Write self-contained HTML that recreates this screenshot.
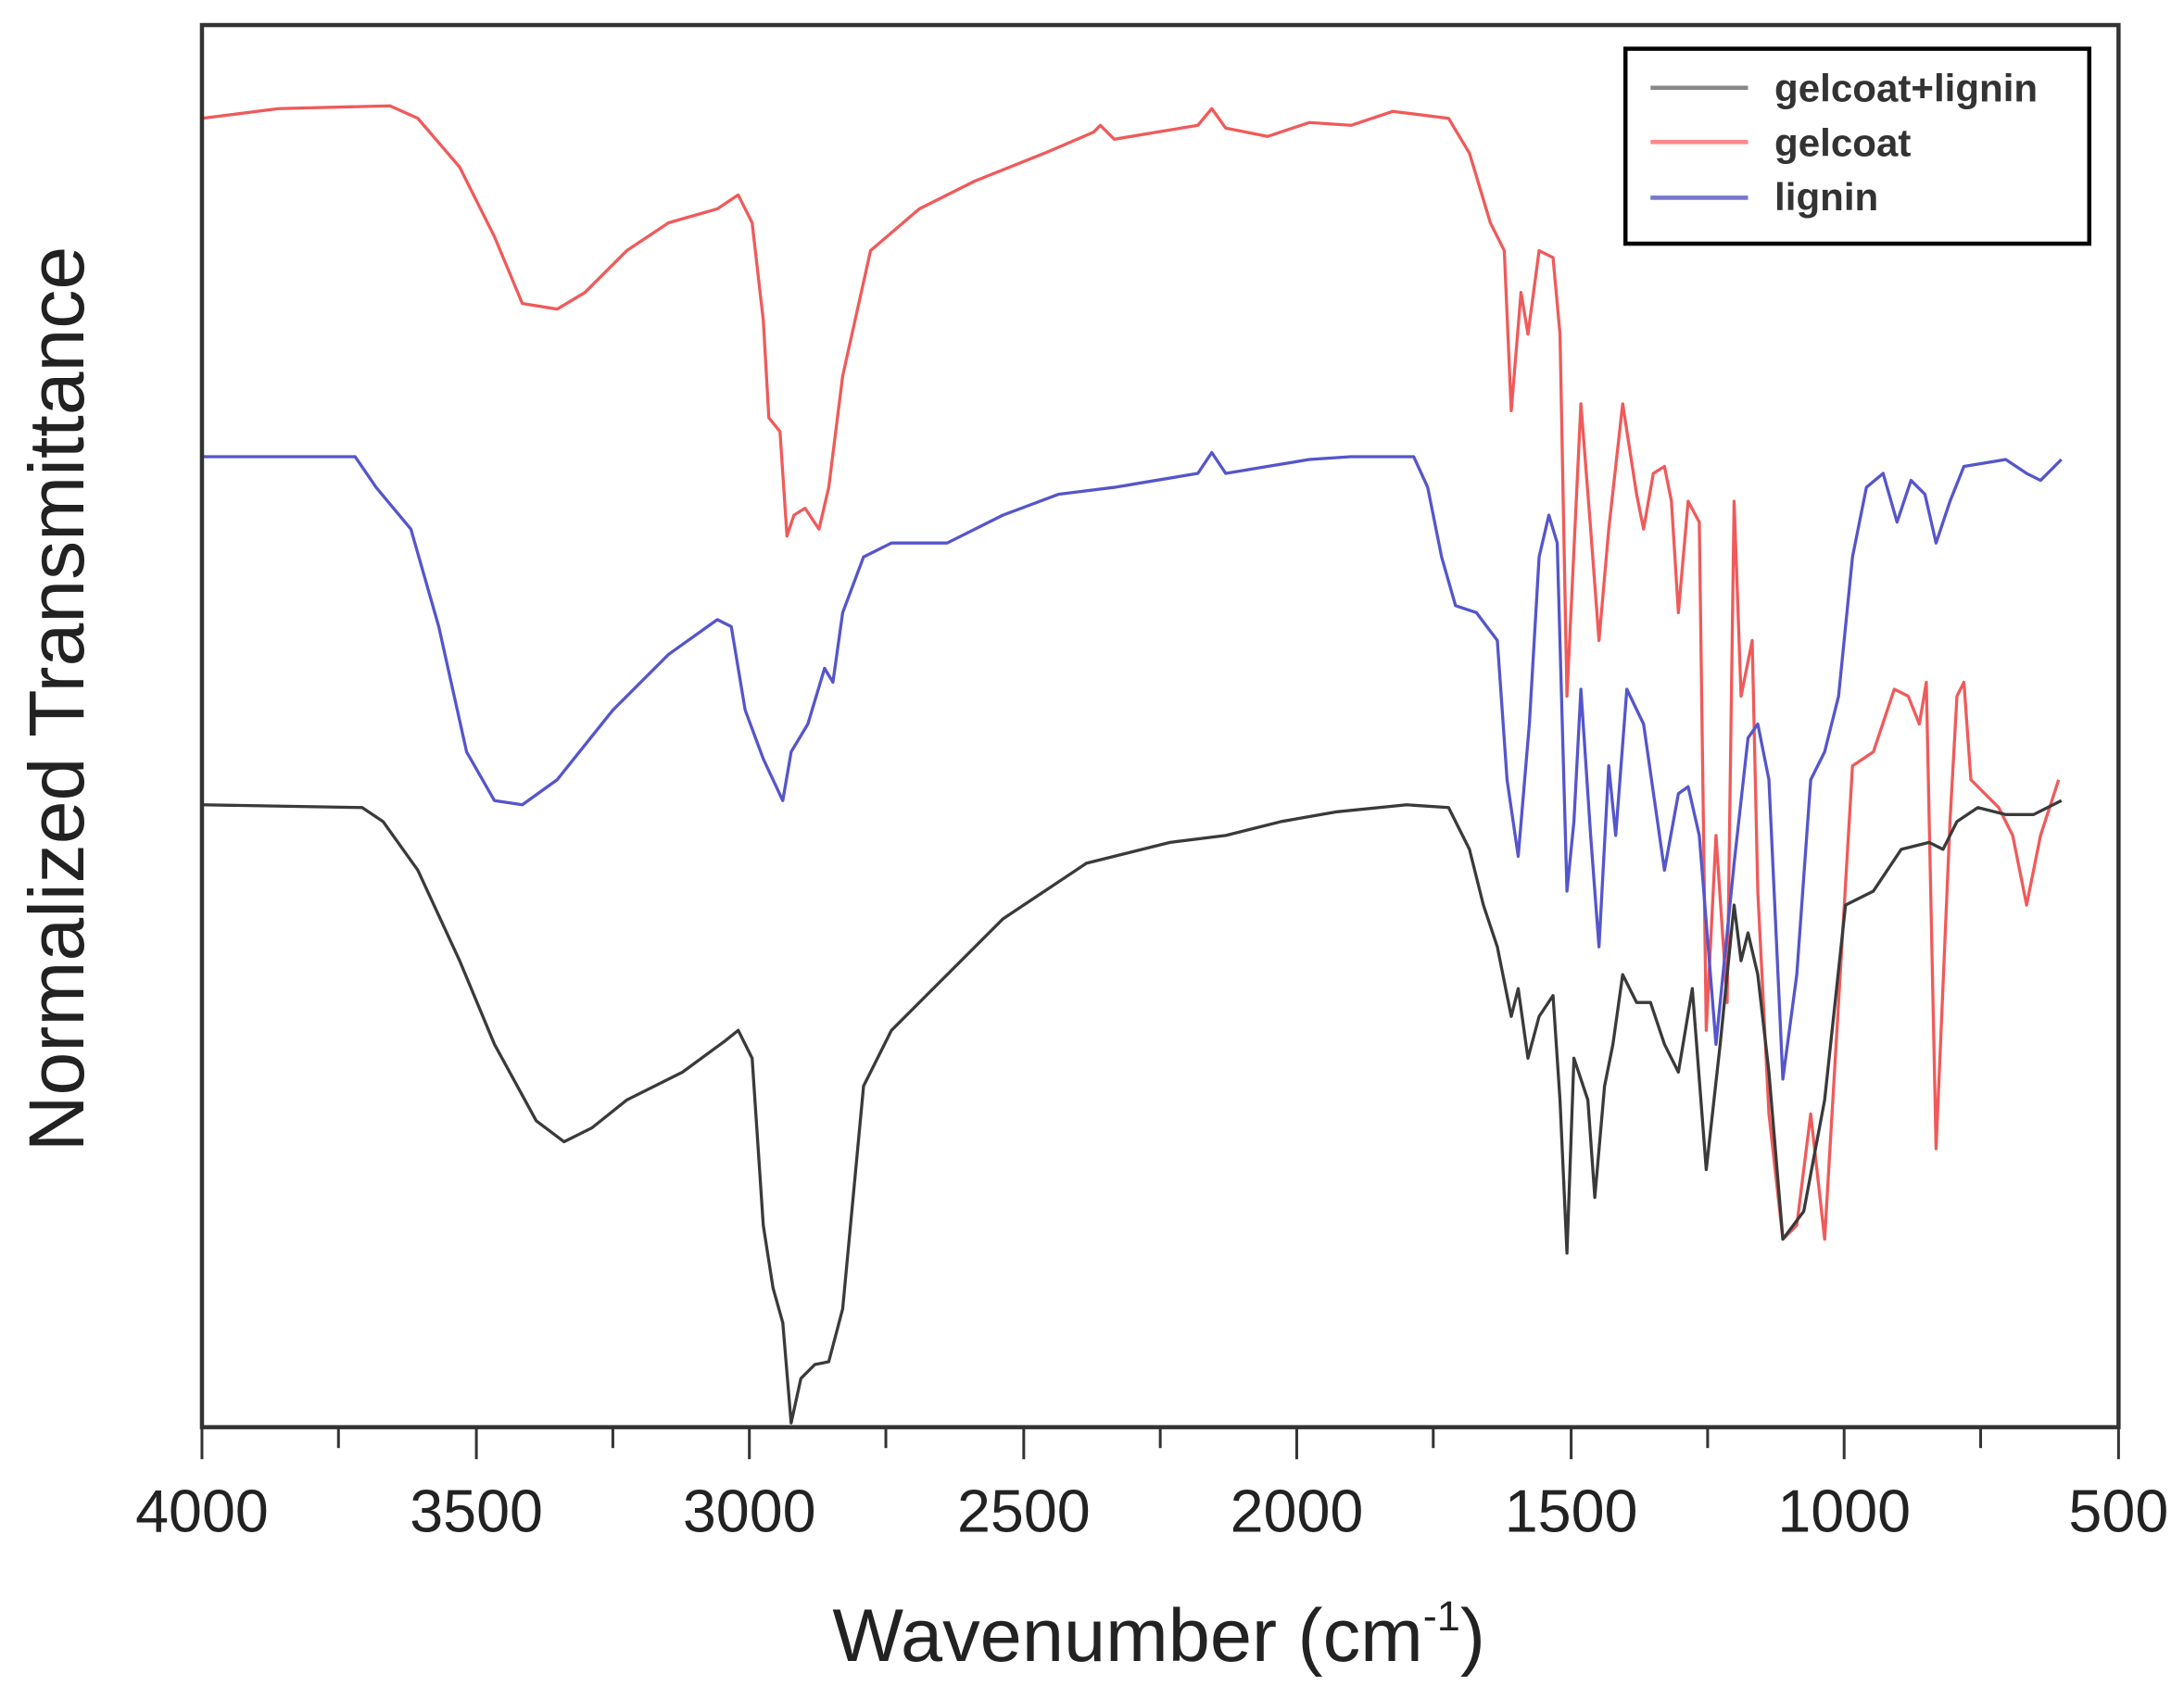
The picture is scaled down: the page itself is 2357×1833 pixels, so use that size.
<!DOCTYPE html>
<html><head><meta charset="utf-8"><style>html,body{margin:0;padding:0;background:#fff}svg{display:block}</style></head>
<body>
<svg width="2357" height="1833" viewBox="0 0 1568 1219.5" preserveAspectRatio="none" xmlns="http://www.w3.org/2000/svg" font-family="Liberation Sans, sans-serif">
<rect width="1568" height="1219.5" fill="#fff"/>
<g fill="none" stroke-linejoin="round" stroke-width="2.2">
<polyline stroke="#f05a5a" points="145,85 200,78 280,76 300,85 330,120 355,170 375,218 400,222 420,210 450,180 480,160 515,150 530,140 540,160 548,230 552,300 560,310 565,385 570,370 578,365 588,380 595,350 605,270 625,180 660,150 700,130 750,110 785,95 790,90 800,100 830,95 860,90 870,78 880,92 910,98 940,88 970,90 1000,80 1040,85 1055,110 1070,160 1080,180 1085,295 1092,210 1097,240 1105,180 1115,185 1120,240 1125,500 1135,290 1142,380 1148,460 1155,380 1165,290 1175,355 1180,380 1187,340 1195,335 1200,360 1205,440 1212,360 1220,375 1225,740 1232,600 1240,720 1245,360 1250,500 1258,460 1262,640 1270,800 1280,890 1290,880 1300,800 1310,890 1320,720 1330,550 1345,540 1360,495 1370,500 1378,520 1383,490 1390,825 1400,590 1405,500 1410,490 1415,560 1425,570 1435,580 1445,600 1455,650 1465,600 1478,560"/>
<polyline stroke="#5555cc" points="145,328 255,328 270,350 295,380 315,450 335,540 355,575 375,578 400,560 440,510 480,470 515,445 525,450 535,510 548,545 562,575 568,540 580,520 592,480 598,490 605,440 620,400 640,390 680,390 720,370 760,355 800,350 830,345 860,340 870,325 880,340 910,335 940,330 970,328 1015,328 1025,350 1035,400 1045,435 1060,440 1075,460 1082,560 1090,615 1098,520 1105,400 1112,370 1118,390 1125,640 1130,590 1135,495 1142,600 1148,680 1155,550 1160,600 1168,495 1180,520 1195,625 1205,570 1212,565 1220,600 1232,750 1245,620 1255,530 1262,520 1270,560 1280,775 1290,700 1300,560 1310,540 1320,500 1330,400 1340,350 1352,340 1362,375 1372,345 1382,355 1390,390 1400,360 1410,335 1440,330 1455,340 1465,345 1480,330"/>
<polyline stroke="#3a3a3a" points="145,578 260,580 275,590 300,625 330,690 355,750 385,805 405,820 425,810 450,790 490,770 520,748 530,740 540,760 548,880 555,925 562,950 568,1022 575,990 585,980 595,978 605,940 620,780 640,740 680,700 720,660 780,620 840,605 880,600 920,590 960,583 1010,578 1040,580 1055,610 1065,650 1075,680 1085,730 1090,710 1097,760 1105,730 1115,715 1120,790 1125,900 1130,760 1140,790 1145,860 1152,780 1158,750 1165,700 1175,720 1185,720 1195,750 1205,770 1215,710 1225,840 1235,750 1245,650 1250,690 1255,670 1262,700 1270,770 1280,890 1295,870 1310,790 1325,650 1345,640 1365,610 1385,605 1395,610 1405,590 1420,580 1440,585 1460,585 1480,575"/>
</g>
<rect x="145" y="18" width="1376" height="1007" fill="none" stroke="#333" stroke-width="3"/>
<g stroke="#333" stroke-width="2">
<line x1="145" y1="1025" x2="145" y2="1048"/><line x1="243" y1="1025" x2="243" y2="1040"/>
<line x1="342" y1="1025" x2="342" y2="1048"/><line x1="440" y1="1025" x2="440" y2="1040"/>
<line x1="538" y1="1025" x2="538" y2="1048"/><line x1="636" y1="1025" x2="636" y2="1040"/>
<line x1="735" y1="1025" x2="735" y2="1048"/><line x1="833" y1="1025" x2="833" y2="1040"/>
<line x1="931" y1="1025" x2="931" y2="1048"/><line x1="1029" y1="1025" x2="1029" y2="1040"/>
<line x1="1128" y1="1025" x2="1128" y2="1048"/><line x1="1226" y1="1025" x2="1226" y2="1040"/>
<line x1="1324" y1="1025" x2="1324" y2="1048"/><line x1="1422" y1="1025" x2="1422" y2="1040"/>
<line x1="1521" y1="1025" x2="1521" y2="1048"/>
</g>
<g font-size="43" fill="#222" text-anchor="middle">
<text x="145" y="1100">4000</text><text x="342" y="1100">3500</text><text x="538" y="1100">3000</text>
<text x="735" y="1100">2500</text><text x="931" y="1100">2000</text><text x="1128" y="1100">1500</text>
<text x="1324" y="1100">1000</text><text x="1521" y="1100">500</text>
</g>
<text x="832" y="1193" font-size="54" fill="#222" text-anchor="middle">Wavenumber (cm<tspan font-size="30" dy="-22">-1</tspan><tspan dy="22">)</tspan></text>
<text transform="translate(60,502) rotate(-90)" font-size="56" fill="#222" text-anchor="middle">Normalized Transmittance</text>
<rect x="1167" y="35" width="333" height="140" fill="#fff" stroke="#000" stroke-width="3"/>
<line x1="1185" y1="63" x2="1255" y2="63" stroke="#888" stroke-width="3"/>
<line x1="1185" y1="102" x2="1255" y2="102" stroke="#f88" stroke-width="3"/>
<line x1="1185" y1="142" x2="1255" y2="142" stroke="#77c" stroke-width="3"/>
<g font-size="28" font-weight="bold" fill="#333">
<text x="1274" y="73">gelcoat+lignin</text><text x="1274" y="112">gelcoat</text><text x="1274" y="151">lignin</text>
</g>
</svg>
</body></html>
